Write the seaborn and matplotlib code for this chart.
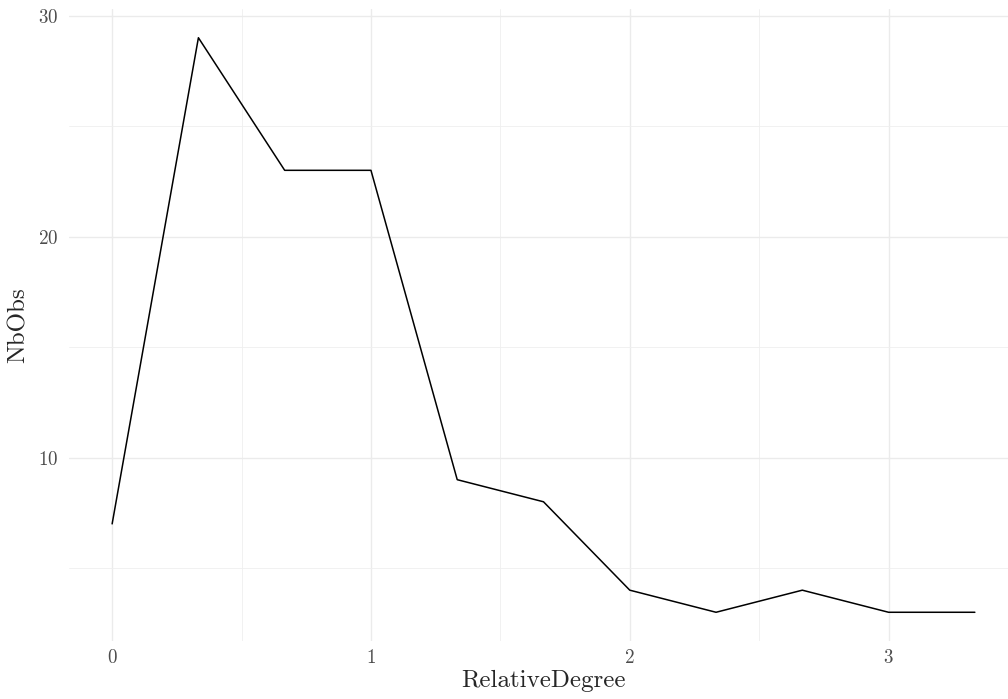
import matplotlib
matplotlib.use("Agg")
import matplotlib.pyplot as plt
import seaborn as sns
import pandas as pd

relative_degree = [0, 1/3, 2/3, 1, 4/3, 5/3, 2, 7/3, 8/3, 3, 10/3]
nb_obs = [7, 29, 23, 23, 9, 8, 4, 3, 4, 3, 3]
x_ticks = [0, 1, 2, 3]
y_ticks = [10, 20, 30]

df = pd.DataFrame({"RelativeDegree": relative_degree, "NbObs": nb_obs})

sns.set_style("white")
plt.rcParams["font.family"] = ["cmr10", "DejaVu Serif"]
plt.rcParams["axes.formatter.use_mathtext"] = True

fig = plt.figure(figsize=(10.08, 6.99), dpi=100)
W, H = 1008, 699
# panel: left 69px, top 9px, bottom 641px, x=3.5 at ~1018px
ax = fig.add_axes([69 / W, 1 - 641 / H, (1018 - 69) / W, (641 - 9) / H])

sns.lineplot(data=df, x="RelativeDegree", y="NbObs", color="black", lw=1.1, ax=ax)

ax.set_xlim(-1/6, 3.5)
ax.set_ylim(1.7, 30.3)
ax.set_xticks(x_ticks)
ax.set_yticks(y_ticks)
ax.set_xticks([0.5, 1.5, 2.5], minor=True)
ax.set_yticks([5, 15, 25], minor=True)
ax.grid(which="major", color="#EBEBEB", lw=1.0)
ax.grid(which="minor", color="#EFEFEF", lw=0.6)
ax.set_axisbelow(True)
for s in ax.spines.values():
    s.set_visible(False)
ax.tick_params(which="both", length=0, labelsize=13.7, labelcolor="#4D4D4D")
ax.tick_params(axis="x", pad=6)
ax.tick_params(axis="y", pad=8)
ax.set_xlabel("RelativeDegree", fontsize=18, labelpad=2)
ax.set_ylabel("NbObs", fontsize=18, labelpad=6)

fig.savefig("out.png", dpi=100)
